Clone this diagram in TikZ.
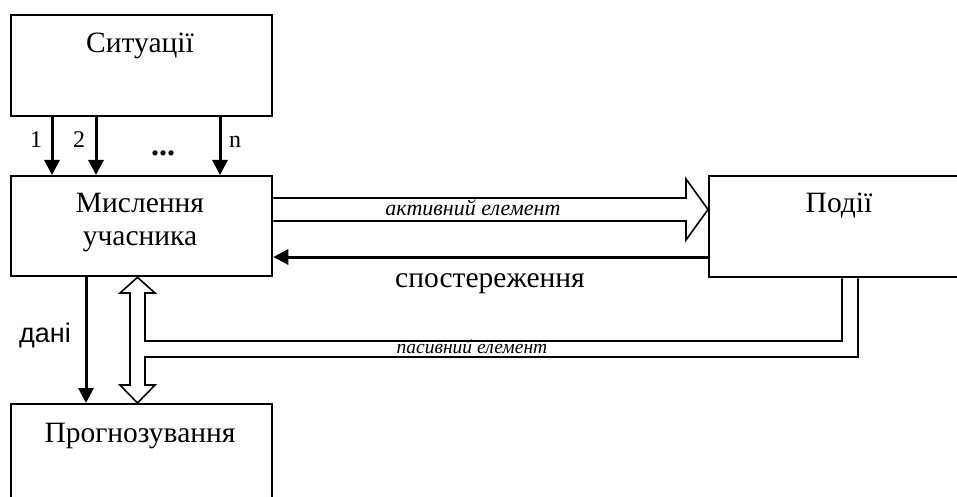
\documentclass[tikz,border=0pt]{standalone}
\usepackage{fontspec}
\setmainfont{Liberation Serif}
\newfontfamily\arialf{Liberation Sans}
\usetikzlibrary{arrows.meta}
\begin{document}
\begin{tikzpicture}[x=1pt,y=-1pt,
  box/.style={draw,line width=2.3pt,rectangle,inner sep=0pt,anchor=north west},
  boxtext/.style={font=\fontsize{29.5}{33}\selectfont,anchor=base,inner sep=0pt,align=center},
  thickarr/.style={line width=3pt,-{Triangle[length=15pt,width=15pt]}},
  hollowline/.style={line width=1.6pt,line join=miter},
  lbl/.style={inner sep=0pt,anchor=base}]
\useasboundingbox (0,0) rectangle (957,497);
% boxes
\node[box,minimum width=261pt,minimum height=101pt] (sit) at (10,14) {};
\node[box,minimum width=261pt,minimum height=100pt] (think) at (10,175) {};
\node[box,minimum width=261pt,minimum height=100pt] (prog) at (10,403) {};
\node[box,minimum width=262pt,minimum height=101pt] (events) at (708,175) {};
% box texts
\node[boxtext] (sitt) at (140,53) {Ситуації};
\node[boxtext] (thinkt) at (140,245) {Мислення\\учасника};
\node[boxtext] (progt) at (140,442) {Прогнозування};
\node[boxtext] (eventst) at (839,212) {Події};
% situation arrows
\draw[thickarr] ([xshift=42pt]sit.south west) -- ([xshift=42pt]think.north west);
\draw[thickarr] ([xshift=86pt]sit.south west) -- ([xshift=86pt]think.north west);
\draw[thickarr] ([xshift=210pt]sit.south west) -- ([xshift=210pt]think.north west);
\node[lbl,font=\fontsize{24}{28}\selectfont] (l1) at (36,148) {1};
\node[lbl,font=\fontsize{24}{28}\selectfont] (l2) at (79,148) {2};
\node[lbl,font=\fontsize{24}{28}\selectfont] (ln) at (235,148) {n};
\node[lbl,font=\fontsize{32}{36}\selectfont\bfseries] (ldots) at (163,156) {...};
% active element (hollow arrow)
\draw[hollowline] ([yshift=-23pt]think.north east) -- (686,198) -- (686,179) --
  ([yshift=-34.5pt]events.north west) -- (686,240) -- (686,221) -- ([yshift=-46pt]think.north east);
\node[lbl,font=\fontsize{22}{26}\itshape] (act) at (473,215) {активний елемент};
% observation
\draw[thickarr] ([yshift=-82pt]events.north west) -- ([yshift=-82pt]think.north east);
\node[lbl,font=\fontsize{29.5}{33}\selectfont] (obs) at (490,287) {спостереження};
% data arrow
\draw[thickarr] ([xshift=76pt]think.south west) -- ([xshift=76pt]prog.north west);
\node[lbl,font=\arialf\fontsize{27}{31}\selectfont] (data) at (45,342) {дані};
% passive element + double hollow arrow
\draw[hollowline] ([xshift=134pt]events.south west) -- (842,341) -- (145,341) -- (145,293) --
  (155,293) -- ([xshift=127.5pt]think.south west) -- (120,293) -- (130,293) -- (130,385) --
  (120,385) -- ([xshift=127.5pt]prog.north west) -- (155,385) -- (145,385) -- (145,357) --
  (858,357) -- ([xshift=150pt]events.south west);
\node[lbl,font=\fontsize{19.5}{23}\itshape] (pas) at (472,353) {пасивний елемент};
\end{tikzpicture}
\end{document}
